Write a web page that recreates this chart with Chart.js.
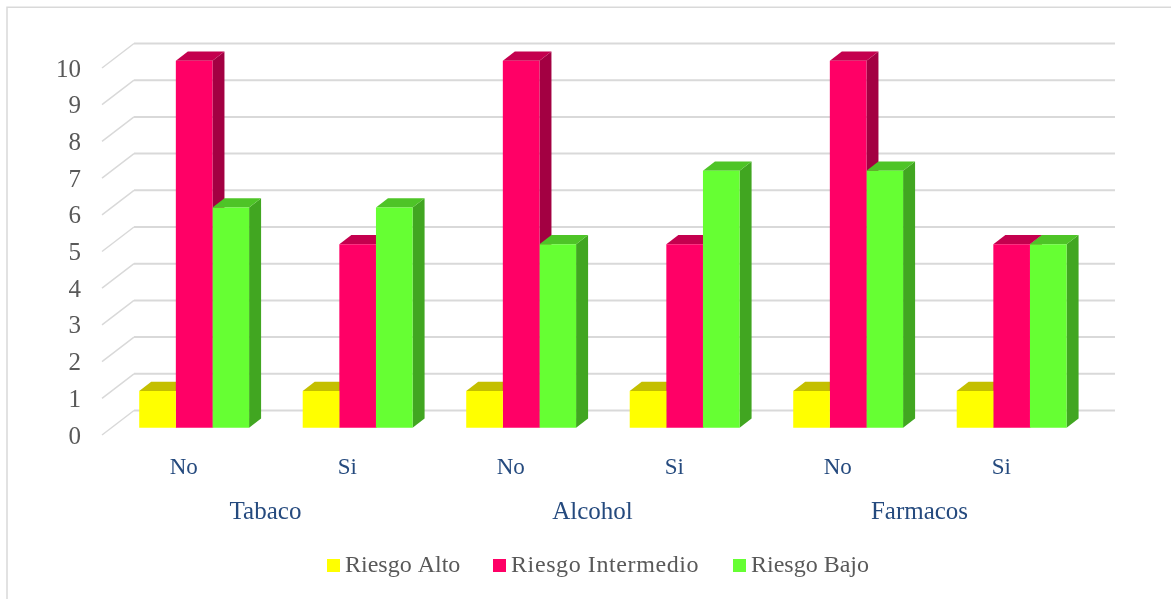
<!DOCTYPE html>
<html>
<head>
<meta charset="utf-8">
<title>Riesgo por consumo</title>
<script src="https://cdn.jsdelivr.net/npm/chart.js@4/dist/chart.umd.min.js"></script>
<style>
  html, body { margin: 0; padding: 0; background: #fff; overflow: hidden; }
  canvas { display: block; }
</style>
</head>
<body>
<canvas id="riskChart" width="1171" height="599"></canvas>
<script>
const categories = ["No", "Si", "No", "Si", "No", "Si"];
const groupLabels = ["Tabaco", "Alcohol", "Farmacos"];
const riesgoAlto = [1, 1, 1, 1, 1, 1];
const riesgoIntermedio = [10, 5, 10, 5, 10, 5];
const riesgoBajo = [6, 6, 5, 7, 7, 5];

const FONT_FAMILY = '"Liberation Serif", serif';
const GRID_COLOR = "#d9d9d9";
// y tick labels sit a little below the point where their wall line starts
const WALL_FRONT_Y = -2;
// how far the back wall sits from the front plane, and how far the bars sit inside
const WALL_DEPTH = { x: 32, y: -24.5 };
const BAR_INSET = { x: 10.4, y: -9.3 };
const BAR_DEPTH = { x: 12, y: -9.3 };

function face(ctx, points, color) {
  ctx.beginPath();
  points.forEach((p, i) => (i ? ctx.lineTo(p[0], p[1]) : ctx.moveTo(p[0], p[1])));
  ctx.closePath();
  ctx.fillStyle = color;
  ctx.fill();
}

const frame3d = {
  id: "frame3d",
  beforeDraw(chart) {
    const ctx = chart.ctx;
    const area = chart.chartArea;
    const yScale = chart.scales.y;
    ctx.save();
    // outer frame, only left and top fall inside the canvas
    ctx.strokeStyle = GRID_COLOR;
    ctx.lineWidth = 1.5;
    ctx.beginPath();
    ctx.moveTo(7, 599);
    ctx.lineTo(7, 7.3);
    ctx.lineTo(1171, 7.3);
    ctx.stroke();
    // side wall diagonals and back wall lines
    yScale.ticks.forEach((tick) => {
      const y = yScale.getPixelForValue(tick.value) + WALL_FRONT_Y;
      const backX = area.left + WALL_DEPTH.x;
      const backY = y + WALL_DEPTH.y;
      ctx.lineWidth = 1.5;
      ctx.beginPath();
      ctx.moveTo(area.left, y);
      ctx.lineTo(backX, backY);
      ctx.stroke();
      ctx.lineWidth = 2;
      ctx.beginPath();
      ctx.moveTo(backX, backY);
      ctx.lineTo(area.right + WALL_DEPTH.x, backY);
      ctx.stroke();
    });
    ctx.restore();
  },
  beforeDatasetsDraw(chart) {
    const ctx = chart.ctx;
    const d = BAR_DEPTH;
    ctx.save();
    ctx.translate(BAR_INSET.x, BAR_INSET.y);
    // top and side faces all go first, left to right, the fronts then cover them
    chart.data.datasets.forEach((ds, i) => {
      chart.getDatasetMeta(i).data.forEach((bar) => {
        const left = bar.x - bar.width / 2;
        const right = bar.x + bar.width / 2;
        const top = bar.y;
        const bottom = bar.base;
        face(ctx, [[right, top], [right + d.x, top + d.y], [right + d.x, bottom + d.y], [right, bottom]], ds.sideColor);
        face(ctx, [[left, top], [left + d.x, top + d.y], [right + d.x, top + d.y], [right, top]], ds.topColor);
      });
    });
  },
  afterDatasetsDraw(chart) {
    chart.ctx.restore();
  },
  afterDraw(chart) {
    // legend with a tight gap between swatch and text
    const ctx = chart.ctx;
    const startX = [327, 493, 733];
    const tracking = ["0px", "0.6px", "0px"];
    ctx.save();
    ctx.font = "24px " + FONT_FAMILY;
    ctx.textBaseline = "middle";
    chart.data.datasets.forEach((ds, i) => {
      ctx.fillStyle = ds.backgroundColor;
      ctx.fillRect(startX[i], 559, 13, 13);
      ctx.fillStyle = "#595959";
      ctx.letterSpacing = tracking[i];
      ctx.fillText(ds.label, startX[i] + 18, 566);
    });
    ctx.restore();
  },
};

new Chart(document.getElementById("riskChart"), {
  type: "bar",
  plugins: [frame3d],
  data: {
    labels: categories,
    datasets: [
      { label: "Riesgo Alto", data: riesgoAlto, backgroundColor: "#ffff00", topColor: "#c4bf00", sideColor: "#a3a000" },
      { label: "Riesgo Intermedio", data: riesgoIntermedio, backgroundColor: "#ff0066", topColor: "#c4004e", sideColor: "#a30042" },
      { label: "Riesgo Bajo", data: riesgoBajo, backgroundColor: "#66ff33", topColor: "#4ec427", sideColor: "#41a621" },
    ],
  },
  options: {
    responsive: false,
    animation: false,
    layout: { padding: { left: 0, right: 88, top: 70, bottom: 62 } },
    datasets: { bar: { categoryPercentage: 0.672, barPercentage: 1, clip: false } },
    plugins: { legend: { display: false }, tooltip: { enabled: false } },
    scales: {
      x: {
        grid: { display: false, drawTicks: false },
        border: { display: false },
        ticks: { color: "#254a7e", font: { family: FONT_FAMILY, size: 23 }, padding: 17, maxRotation: 0, autoSkip: false },
        afterFit(scale) { scale.height = 56; },
      },
      x2: {
        type: "category",
        position: "bottom",
        weight: 1,
        offset: true,
        labels: groupLabels,
        grid: { display: false, drawTicks: false },
        border: { display: false },
        ticks: { color: "#254a7e", font: { family: FONT_FAMILY, size: 25 }, padding: 4, maxRotation: 0, autoSkip: false },
        afterFit(scale) { scale.height = 44; },
      },
      y: {
        min: 0,
        max: 10,
        grid: { display: false, drawTicks: false },
        border: { display: false },
        ticks: { stepSize: 1, color: "#595959", font: { family: FONT_FAMILY, size: 25 }, padding: 21 },
        afterFit(scale) { scale.width = 102; },
      },
    },
  },
});
</script>
</body>
</html>
